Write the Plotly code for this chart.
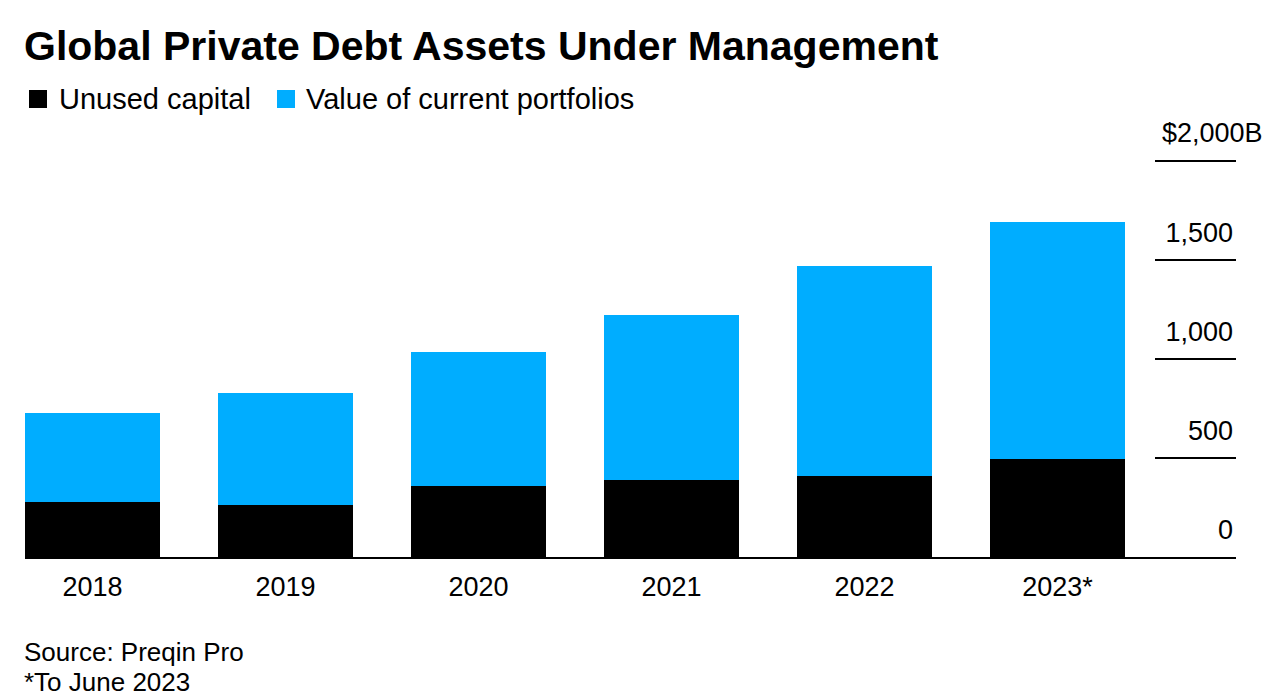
import plotly.graph_objects as go

# ---- data ----
years = ["2018", "2019", "2020", "2021", "2022", "2023*"]
unused_capital = [278, 263, 359, 391, 408, 497]
current_portfolios = [447, 567, 676, 829, 1064, 1197]
y_tick_vals = [0, 500, 1000, 1500, 2000]
y_tick_text = ["0", "500", "1,000", "1,500", ""]
top_label = "$2,000B"

title = "Global Private Debt Assets Under Management"
legend_names = ["Unused capital", "Value of current portfolios"]
colors = ["#000000", "#00adff"]
source_lines = ["Source: Preqin Pro", "*To June 2023"]

# ---- layout geometry (pixels) ----
W, H = 1267, 699
L, R, T, B = 25, 31, 160, 142
pw, ph = W - L - R, H - T - B
base_px = T + ph


def px(x):
    return (x - L) / pw


def py(y):
    return (base_px - y) / ph


FONT = "Liberation Sans, Arial, Helvetica, sans-serif"

fig = go.Figure()
fig.add_trace(go.Bar(x=years, y=unused_capital, name=legend_names[0],
                     marker=dict(color=colors[0], line=dict(width=0))))
fig.add_trace(go.Bar(x=years, y=current_portfolios, name=legend_names[1],
                     marker=dict(color=colors[1], line=dict(width=0))))

fig.update_layout(
    width=W, height=H,
    margin=dict(l=L, r=R, t=T, b=B, pad=0),
    barmode="stack", bargap=0.3,
    plot_bgcolor="white", paper_bgcolor="white",
    showlegend=False,
    font=dict(family=FONT, color="#000000"),
    xaxis=dict(
        type="category", range=[-0.35, 5.925],
        showline=True, linecolor="#000000", linewidth=2,
        showgrid=False, zeroline=False, ticks="",
        tickfont=dict(size=27, family=FONT, color="#000000"),
        ticklabelstandoff=5,
    ),
    yaxis=dict(
        range=[0, 2005], side="right",
        showgrid=False, zeroline=False, showline=False,
        tickvals=y_tick_vals, ticktext=y_tick_text,
        ticks="inside", ticklen=81, tickwidth=2, tickcolor="#000000",
        ticklabelposition="inside top", ticklabelshift=-8,
        ticklabeloverflow="allow",
        tickfont=dict(size=27, family=FONT, color="#000000"),
    ),
)

annotations = [
    dict(text=f"<b>{title}</b>", x=px(22), y=py(46), xref="paper", yref="paper",
         xanchor="left", yanchor="middle", showarrow=False,
         font=dict(size=41, family=FONT, color="#000000")),
    dict(text=legend_names[0], x=px(57), y=py(99), xref="paper", yref="paper",
         xanchor="left", yanchor="middle", showarrow=False,
         font=dict(size=29, family=FONT, color="#000000")),
    dict(text=legend_names[1], x=px(304), y=py(99), xref="paper", yref="paper",
         xanchor="left", yanchor="middle", showarrow=False,
         font=dict(size=29, family=FONT, color="#000000")),
    dict(text=top_label, x=px(1265), y=py(133), xref="paper", yref="paper",
         xanchor="right", yanchor="middle", showarrow=False,
         font=dict(size=27, family=FONT, color="#000000")),
    dict(text=source_lines[0], x=px(L - 3), y=py(652), xref="paper", yref="paper",
         xanchor="left", yanchor="middle", showarrow=False,
         font=dict(size=26, family=FONT, color="#000000")),
    dict(text=source_lines[1], x=px(L - 3), y=py(682), xref="paper", yref="paper",
         xanchor="left", yanchor="middle", showarrow=False,
         font=dict(size=26, family=FONT, color="#000000")),
]
fig.update_layout(annotations=annotations)

shapes = [
    dict(type="rect", xref="paper", yref="paper", x0=px(29), x1=px(47),
         y0=py(108), y1=py(90), fillcolor=colors[0], line=dict(width=0)),
    dict(type="rect", xref="paper", yref="paper", x0=px(277), x1=px(295),
         y0=py(108), y1=py(90), fillcolor=colors[1], line=dict(width=0)),
    # short rule under the top ($2,000B) label
    dict(type="line", xref="paper", yref="y", x0=px(1155), x1=1,
         y0=y_tick_vals[-1], y1=y_tick_vals[-1],
         line=dict(color="#000000", width=2)),
]
fig.update_layout(shapes=shapes)

fig.write_html(
    "out.html",
    config={"displayModeBar": False},
    post_script="document.body.style.margin='0';document.body.style.overflow='hidden';",
)
